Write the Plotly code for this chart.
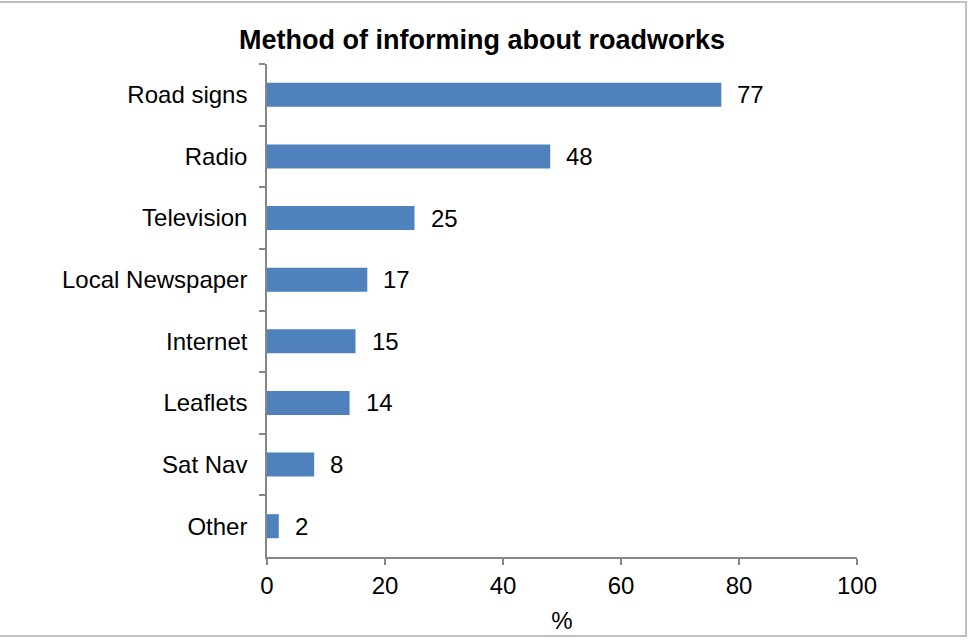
import plotly.graph_objects as go

categories = ["Road signs", "Radio", "Television", "Local Newspaper", "Internet", "Leaflets", "Sat Nav", "Other"]
values = [77, 48, 25, 17, 15, 14, 8, 2]
x_ticks = [0, 20, 40, 60, 80, 100]

FONT = "Liberation Sans, Arial, sans-serif"
AXIS = "#868686"

fig = go.Figure()
fig.add_trace(go.Bar(
    y=categories, x=values, orientation="h",
    marker=dict(color="#4F81BD", line=dict(width=0)),
    hoverinfo="skip",
))
for c, v in zip(categories, values):
    fig.add_annotation(x=v, y=c, xref="x", yref="y", text=str(v), showarrow=False,
                       xanchor="left", yanchor="middle", xshift=14,
                       font=dict(family=FONT, size=24, color="black"))

fig.update_layout(
    width=970, height=641,
    margin=dict(l=267, r=113, t=64, b=84),
    paper_bgcolor="white", plot_bgcolor="white",
    bargap=0.61,
    showlegend=False,
    font=dict(family=FONT, size=24, color="black"),
    title=dict(text="<b>Method of informing about roadworks</b>", x=0.497, xref="container", xanchor="center",
               y=1 - 40 / 641, yref="container", yanchor="middle",
               font=dict(family=FONT, size=27, color="black")),
    xaxis=dict(range=[0, 100], tickvals=x_ticks, ticktext=[str(t) for t in x_ticks],
               showgrid=False, zeroline=False, showline=True, linecolor=AXIS, linewidth=1.5,
               ticks="outside", ticklen=6, tickcolor=AXIS, tickwidth=1.5,
               tickfont=dict(family=FONT, size=24, color="black"),
               title=dict(text="%", standoff=15, font=dict(family=FONT, size=24, color="black"))),
    yaxis=dict(categoryorder="array", categoryarray=categories, autorange="reversed",
               showgrid=False, zeroline=False, showline=True, linecolor=AXIS, linewidth=1.5,
               ticks="outside", tickson="boundaries", ticklen=6, tickcolor=AXIS, tickwidth=1.5,
               ticklabelstandoff=13,
               tickfont=dict(family=FONT, size=24, color="black")),
    shapes=[dict(type="rect", xref="paper", yref="paper",
                 x0=(-5 - 267) / 590, x1=(966 - 267) / 590,
                 y0=(557 - 636) / 493, y1=(557 - 2) / 493,
                 line=dict(color="#C0C0C0", width=2), fillcolor="rgba(0,0,0,0)", layer="below")],
)

fig.write_html("out.html")
